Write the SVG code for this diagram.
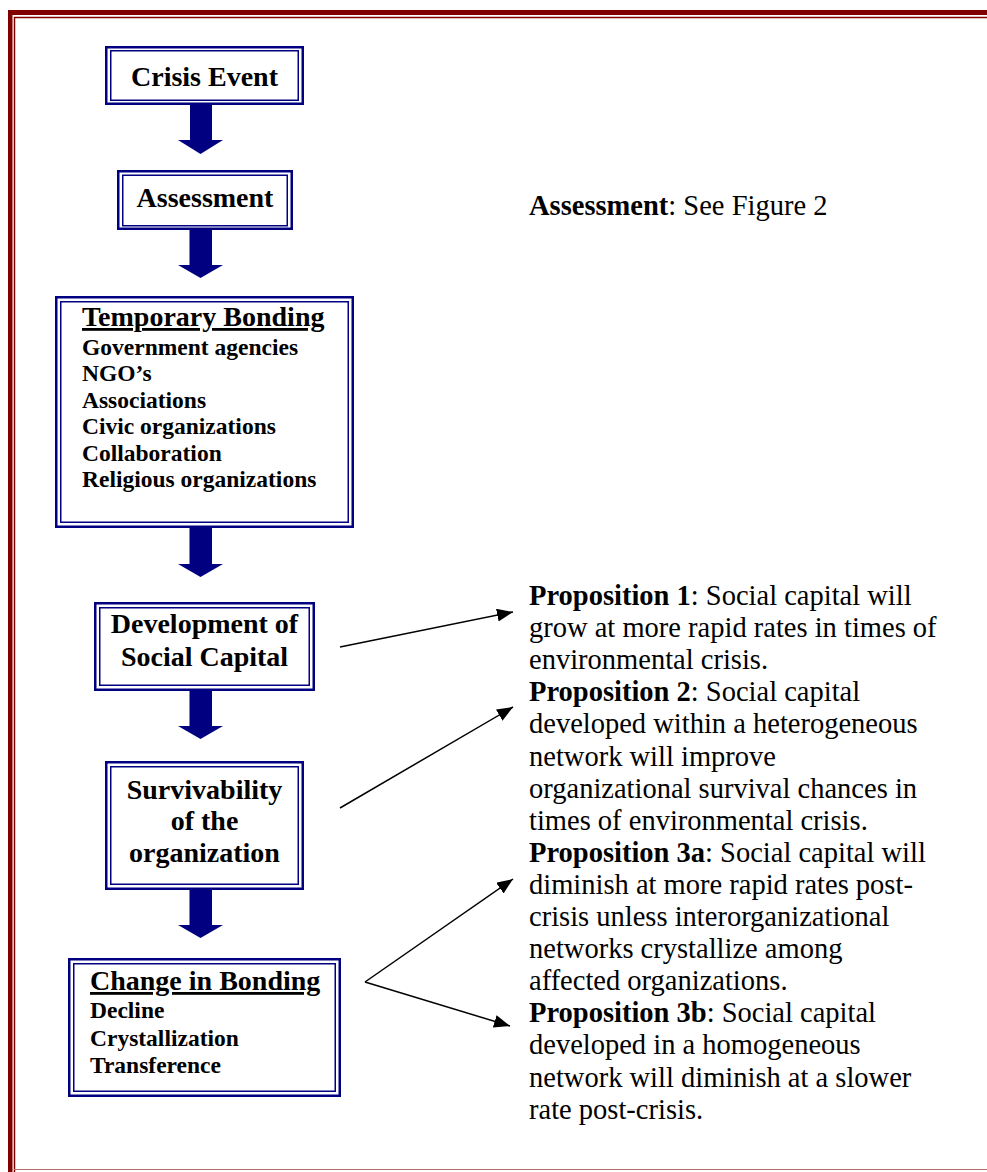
<svg xmlns="http://www.w3.org/2000/svg" width="987" height="1172" viewBox="0 0 987 1172">
<style>
text{font-family:"Liberation Serif","Times New Roman",serif;fill:#000}
.t{font-size:28px;font-weight:bold;text-anchor:middle}
.h{font-size:28px;font-weight:bold;text-decoration:underline}
.b{font-size:23.5px;font-weight:bold}
.p{font-size:28.5px}
.p tspan.k{font-weight:bold}
.o{fill:#fff;stroke:#000080;stroke-width:2.5}
.i{fill:none;stroke:#000080;stroke-width:1.5}
.blk{fill:#000080}
.c{stroke:#000;stroke-width:1.5;fill:none;marker-end:url(#ah)}
</style>
<defs>
<marker id="ah" markerUnits="userSpaceOnUse" markerWidth="17" markerHeight="14" refX="16" refY="6.5" orient="auto">
<path d="M0,0 L16,6.5 L0,13 z" fill="#000"/>
</marker>
</defs>
<rect width="987" height="1172" fill="#fff"/>
<g id="frame">
<rect x="8" y="10" width="979" height="5" fill="#800000"/>
<rect x="8" y="10" width="4.5" height="1162" fill="#800000"/>
<line x1="14" y1="17.5" x2="987" y2="17.5" stroke="#800000" stroke-width="1.5"/>
<line x1="14.5" y1="17" x2="14.5" y2="1172" stroke="#800000" stroke-width="1.5"/>
<line x1="14" y1="1169.5" x2="987" y2="1169.5" stroke="#b07070" stroke-width="1"/>
</g>
<g id="crisis">
<rect class="o" x="106.25" y="47.25" width="196.5" height="56.5"/>
<rect class="i" x="110.75" y="50.75" width="187.5" height="49.5"/>
<text class="t" x="204.5" y="86">Crisis Event</text>
</g>
<g id="assessment">
<rect class="o" x="118.25" y="171.25" width="173.5" height="57.5"/>
<rect class="i" x="122.75" y="175.25" width="164.5" height="50.5"/>
<text class="t" x="205" y="207">Assessment</text>
</g>
<g id="temporary">
<rect class="o" x="56.25" y="297.25" width="296.5" height="229.5"/>
<rect class="i" x="60.75" y="301.75" width="287.5" height="220.5"/>
<text class="h" x="82" y="326">Temporary Bonding</text>
<text class="b" x="82" y="355">Government agencies</text>
<text class="b" x="82" y="381.4">NGO’s</text>
<text class="b" x="82" y="407.8">Associations</text>
<text class="b" x="82" y="434.2">Civic organizations</text>
<text class="b" x="82" y="460.6">Collaboration</text>
<text class="b" x="82" y="487">Religious organizations</text>
</g>
<g id="development">
<rect class="o" x="95.25" y="603.25" width="218.5" height="86.5"/>
<rect class="i" x="99.75" y="607.75" width="209.5" height="77.5"/>
<text class="t" x="204.5" y="633">Development of</text>
<text class="t" x="204.5" y="666">Social Capital</text>
</g>
<g id="survivability">
<rect class="o" x="106.25" y="762.25" width="196.5" height="126.5"/>
<rect class="i" x="110.75" y="766.75" width="187.5" height="117.5"/>
<text class="t" x="204.5" y="799">Survivability</text>
<text class="t" x="204.5" y="830">of the</text>
<text class="t" x="204.5" y="862">organization</text>
</g>
<g id="change">
<rect class="o" x="69.25" y="959.25" width="270.5" height="136.5"/>
<rect class="i" x="73.75" y="963.75" width="261.5" height="127.5"/>
<text class="h" x="90" y="990">Change in Bonding</text>
<text class="b" x="90" y="1018">Decline</text>
<text class="b" x="90" y="1045.5">Crystallization</text>
<text class="b" x="90" y="1073">Transference</text>
</g>
<g id="flow-arrows">
<path class="blk" d="M190,105 H212 V140 H223 L200.5,154 L178,140 H190 Z"/>
<path class="blk" d="M189.5,230 H212 V265 H223 L200.5,278 L178,265 H189.5 Z"/>
<path class="blk" d="M189.5,528 H212 V564 H223 L200.5,577 L178,564 H189.5 Z"/>
<path class="blk" d="M189.5,691 H212 V726 H223 L200.5,739 L178,726 H189.5 Z"/>
<path class="blk" d="M189.5,890 H212 V925 H223 L200.5,938 L178,925 H189.5 Z"/>
</g>
<g id="connectors">
<line class="c" x1="340" y1="647" x2="513" y2="612"/>
<line class="c" x1="340" y1="808" x2="513" y2="707"/>
<line class="c" x1="365" y1="982" x2="513" y2="879"/>
<line class="c" x1="365" y1="982" x2="510" y2="1026"/>
</g>
<g id="notes">
<text class="p" x="529" y="215"><tspan class="k">Assessment</tspan>: See Figure 2</text>
<text class="p" x="529" y="605"><tspan class="k">Proposition 1</tspan>: Social capital will</text>
<text class="p" x="529" y="637.1">grow at more rapid rates in times of</text>
<text class="p" x="529" y="669.2">environmental crisis.</text>
<text class="p" x="529" y="701.3"><tspan class="k">Proposition 2</tspan>: Social capital</text>
<text class="p" x="529" y="733.4">developed within a heterogeneous</text>
<text class="p" x="529" y="765.5">network will improve</text>
<text class="p" x="529" y="797.6">organizational survival chances in</text>
<text class="p" x="529" y="829.7">times of environmental crisis.</text>
<text class="p" x="529" y="861.8"><tspan class="k">Proposition 3a</tspan>: Social capital will</text>
<text class="p" x="529" y="893.9">diminish at more rapid rates post-</text>
<text class="p" x="529" y="926">crisis unless interorganizational</text>
<text class="p" x="529" y="958.1">networks crystallize among</text>
<text class="p" x="529" y="990.2">affected organizations.</text>
<text class="p" x="529" y="1022.3"><tspan class="k">Proposition 3b</tspan>: Social capital</text>
<text class="p" x="529" y="1054.4">developed in a homogeneous</text>
<text class="p" x="529" y="1086.5">network will diminish at a slower</text>
<text class="p" x="529" y="1118.6">rate post-crisis.</text>
</g>
</svg>
